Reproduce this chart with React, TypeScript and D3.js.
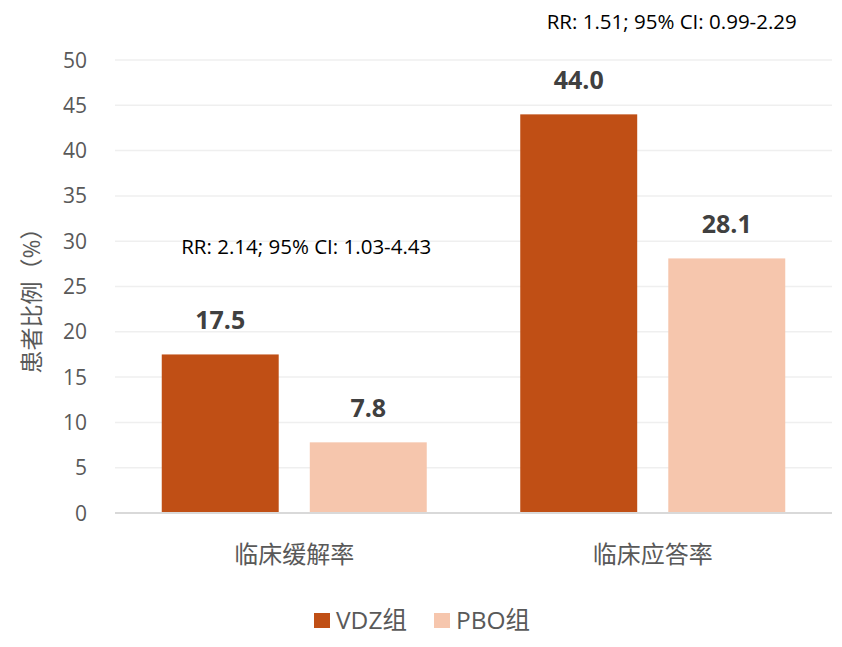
import React, { useEffect, useRef } from 'react';
import * as d3 from 'd3';

const categories = ['临床缓解率', '临床应答率'];
const seriesNames = ['VDZ组', 'PBO组'];
const vdzValues = [17.5, 44.0];
const pboValues = [7.8, 28.1];
const rrLabels = ['RR: 2.14; 95% CI: 1.03-4.43', 'RR: 1.51; 95% CI: 0.99-2.29'];
// height (in axis units) at which each RR annotation sits
const rrLevels = [29.4, 54.2];
const yTicks = [0, 5, 10, 15, 20, 25, 30, 35, 40, 45, 50];
const colors = ['#C04F15', '#F6C6AD'];

const FONT = '"Open Sans", "Noto Sans CJK SC", sans-serif';

export default function App() {
  const svgRef = useRef<SVGSVGElement>(null);

  useEffect(() => {
    if (!svgRef.current) return;
    const svg = d3.select(svgRef.current);
    svg.selectAll('*').remove();

    const left = 115, right = 832, top = 60, bottom = 513;
    const groupW = 265;

    const x0 = d3.scaleBand().domain(categories).range([left, right]);
    const x1 = d3.scaleBand().domain(seriesNames).range([0, groupW]).paddingInner(0.21);
    const y = d3.scaleLinear().domain([0, 50]).range([bottom, top]);

    // gridlines
    svg.append('g').selectAll('line')
      .data(yTicks.filter(t => t > 0))
      .join('line')
      .attr('x1', left).attr('x2', right)
      .attr('y1', d => y(d)).attr('y2', d => y(d))
      .attr('stroke', '#EFEFEF').attr('stroke-width', 1.5);

    // y tick labels
    svg.append('g').selectAll('text')
      .data(yTicks)
      .join('text')
      .attr('x', 87).attr('y', d => y(d))
      .attr('dy', '0.36em')
      .attr('text-anchor', 'end')
      .attr('font-family', FONT).attr('font-size', 21)
      .attr('fill', '#595959')
      .text(d => d);

    // y axis title
    svg.append('text')
      .attr('transform', `translate(32, 295) rotate(-90)`)
      .attr('text-anchor', 'middle')
      .attr('dy', '0.35em')
      .attr('font-family', FONT).attr('font-size', 23)
      .attr('fill', '#595959')
      .text('患者比例（%）');

    const groups = categories.map((c, i) => ({
      cat: c,
      values: [vdzValues[i], pboValues[i]],
      rr: rrLabels[i],
      rrLevel: rrLevels[i],
    }));

    const g = svg.append('g').selectAll('g')
      .data(groups)
      .join('g')
      .attr('transform', d => `translate(${x0(d.cat)! + x0.bandwidth() / 2 - groupW / 2},0)`);

    g.selectAll('rect')
      .data(d => d.values.map((v, j) => ({ name: seriesNames[j], v, j })))
      .join('rect')
      .attr('x', d => x1(d.name)!)
      .attr('width', x1.bandwidth())
      .attr('y', d => y(d.v))
      .attr('height', d => bottom - y(d.v))
      .attr('fill', d => colors[d.j]);

    g.selectAll('text.val')
      .data(d => d.values.map((v, j) => ({ name: seriesNames[j], v })))
      .join('text')
      .attr('class', 'val')
      .attr('x', d => x1(d.name)! + x1.bandwidth() / 2)
      .attr('y', d => y(d.v) - 34)
      .attr('dy', '0.36em')
      .attr('text-anchor', 'middle')
      .attr('font-family', FONT).attr('font-size', 25).attr('font-weight', 'bold')
      .attr('fill', '#404040')
      .text(d => d.v.toFixed(1));

    g.append('text')
      .attr('x', (d, i) => groupW / 2 + (i === 0 ? 12 : 19))
      .attr('y', d => y(d.rrLevel))
      .attr('dy', '0.36em')
      .attr('text-anchor', 'middle')
      .attr('font-family', FONT).attr('font-size', 20.5)
      .attr('fill', '#000')
      .text(d => d.rr);

    // baseline
    svg.append('line')
      .attr('x1', left).attr('x2', right)
      .attr('y1', bottom).attr('y2', bottom)
      .attr('stroke', '#D9D9D9').attr('stroke-width', 2);

    // category labels
    svg.append('g').selectAll('text')
      .data(categories)
      .join('text')
      .attr('x', d => x0(d)! + x0.bandwidth() / 2)
      .attr('y', 555)
      .attr('dy', '0.35em')
      .attr('text-anchor', 'middle')
      .attr('font-family', FONT).attr('font-size', 24)
      .attr('fill', '#595959')
      .text(d => d);

    // legend
    const legendX = [314, 434];
    const legend = svg.append('g').selectAll('g')
      .data(seriesNames)
      .join('g')
      .attr('transform', (d, i) => `translate(${legendX[i]}, 620)`);
    legend.append('rect')
      .attr('x', 0).attr('y', -7)
      .attr('width', 16).attr('height', 15)
      .attr('fill', (d, i) => colors[i]);
    legend.append('text')
      .attr('x', 22).attr('y', 0)
      .attr('dy', '0.35em')
      .attr('font-family', FONT).attr('font-size', 24.5)
      .attr('fill', '#595959')
      .text(d => d);
  }, []);

  return (
    <svg ref={svgRef} width={842} height={647}
      style={{ position: 'absolute', left: 0, top: 0, background: '#fff' }} />
  );
}
